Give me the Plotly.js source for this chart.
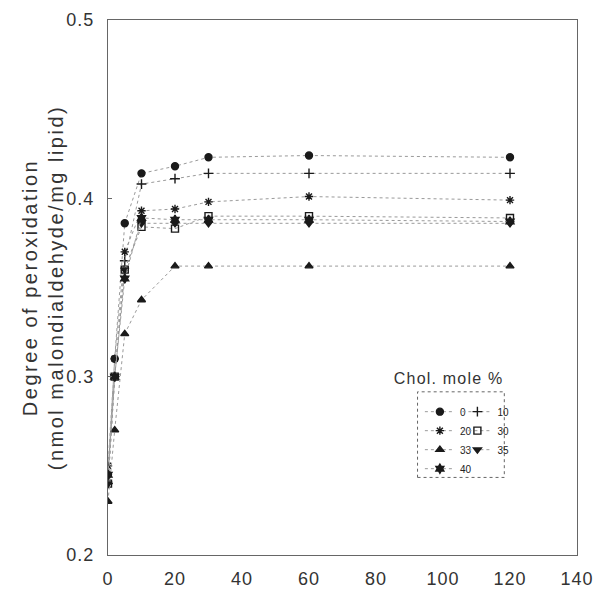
<!DOCTYPE html>
<html>
<head>
<meta charset="utf-8">
<script src="https://cdn.plot.ly/plotly-3.0.1.min.js"></script>
<style>
  html, body { margin: 0; padding: 0; background: #fff; }
  #chart { width: 600px; height: 603px; }
  /* the typeset in this figure is loosely tracked */
  #chart .ytitle { letter-spacing: 2.5px; }
  #chart .xtick text, #chart .ytick text { letter-spacing: 1px; }
  #chart .annotation-text { letter-spacing: 1.2px; }
</style>
</head>
<body>
<div id="chart"></div>
<script>
// Incubation time (min)
const times = [0, 2, 5, 10, 20, 30, 60, 120];

// Cholesterol content of the liposomes (mole %)
const cholLabels = ['0', '10', '20', '30', '33', '35', '40'];

// Peroxidation (nmol malondialdehyde / mg lipid) for each cholesterol level
const chol0  = [0.245, 0.310, 0.386, 0.414, 0.418, 0.423, 0.424, 0.423];
const chol10 = [0.240, 0.300, 0.365, 0.408, 0.411, 0.414, 0.414, 0.414];
const chol20 = [0.250, 0.310, 0.370, 0.393, 0.394, 0.398, 0.401, 0.399];
const chol30 = [0.240, 0.300, 0.360, 0.384, 0.383, 0.390, 0.390, 0.389];
const chol33 = [0.230, 0.270, 0.324, 0.343, 0.362, 0.362, 0.362, 0.362];
const chol35 = [0.240, 0.300, 0.360, 0.386, 0.386, 0.386, 0.386, 0.386];
const chol40 = [0.245, 0.300, 0.355, 0.389, 0.388, 0.388, 0.388, 0.387];

const seriesValues = [chol0, chol10, chol20, chol30, chol33, chol35, chol40];
const symbols = ['circle', 'cross-thin-open', 'asterisk-open', 'square-open',
                 'triangle-up', 'triangle-down', 'hexagram'];
// split the key into two columns
const legendOf = ['legend', 'legend2', 'legend', 'legend2', 'legend', 'legend2', 'legend'];

const traces = seriesValues.map((vals, i) => ({
  x: times,
  y: vals,
  name: cholLabels[i],
  type: 'scatter',
  mode: 'lines+markers',
  legend: legendOf[i],
  line: { color: '#9a9a9a', width: 1, dash: 'dot' },
  marker: { symbol: symbols[i], size: 7, color: '#1a1a1a',
            line: { color: '#1a1a1a', width: 1.4 } }
}));

const fontFam = '"Liberation Sans", Arial, sans-serif';

const legendCommon = {
  bgcolor: 'rgba(0,0,0,0)',
  borderwidth: 0,
  font: { family: fontFam, size: 10, color: '#222' },
  xanchor: 'left',
  yanchor: 'top',
  itemwidth: 30,
  tracegroupgap: 0
};

const layout = {
  width: 600,
  height: 603,
  margin: { l: 108, r: 23, t: 20, b: 48 },
  paper_bgcolor: '#fff',
  plot_bgcolor: '#fff',
  showlegend: true,
  font: { family: fontFam, color: '#333' },
  xaxis: {
    range: [0, 140],
    tickvals: [0, 20, 40, 60, 80, 100, 120, 140],
    ticks: '',
    showgrid: false,
    zeroline: false,
    showline: true,
    mirror: true,
    linecolor: '#666',
    linewidth: 1,
    ticklabelstandoff: 7,
    tickfont: { family: fontFam, size: 18, color: '#333' }
  },
  yaxis: {
    range: [0.2, 0.5],
    tickvals: [0.2, 0.3, 0.4, 0.5],
    tickformat: '.1f',
    ticks: 'inside',
    ticklen: 4,
    tickcolor: '#666',
    showgrid: false,
    zeroline: false,
    showline: true,
    mirror: true,
    linecolor: '#666',
    linewidth: 1,
    ticklabelstandoff: 9,
    tickfont: { family: fontFam, size: 18, color: '#333' },
    title: {
      text: 'Degree of peroxidation<br>(nmol malondialdehyde/mg lipid)',
      font: { family: fontFam, size: 20, color: '#333' },
      standoff: 0
    }
  },
  legend: Object.assign({ x: 0.665, y: 0.295 }, legendCommon),
  legend2: Object.assign({ x: 0.745, y: 0.295 }, legendCommon),
  shapes: [{
    type: 'rect', xref: 'paper', yref: 'paper',
    x0: 0.66, x1: 0.845, y0: 0.145, y1: 0.305,
    line: { color: '#666', width: 1, dash: 'dot' }
  }],
  annotations: [{
    text: 'Chol. mole %',
    xref: 'paper', yref: 'paper',
    x: 0.725, y: 0.33,
    xanchor: 'center', yanchor: 'middle',
    showarrow: false,
    font: { family: fontFam, size: 16, color: '#333' }
  }]
};

Plotly.newPlot('chart', traces, layout, { displayModeBar: false, staticPlot: true });
</script>
</body>
</html>
